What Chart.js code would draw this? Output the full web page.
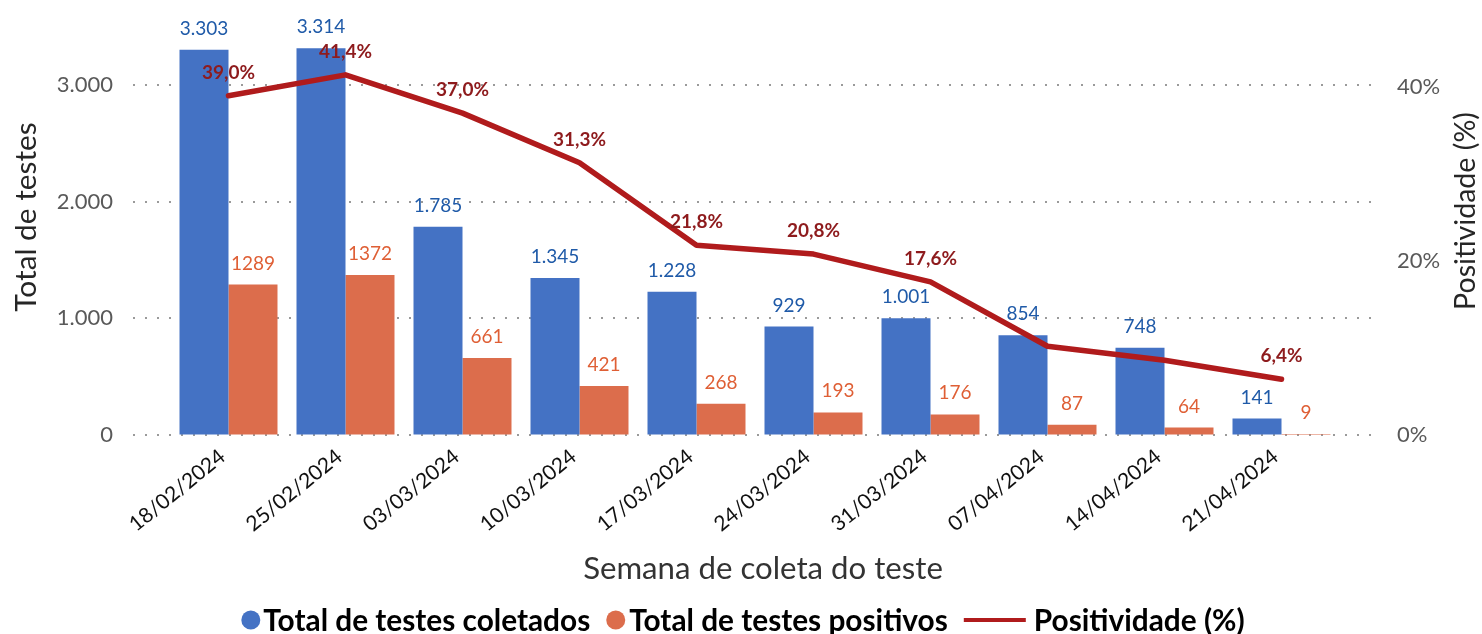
<!DOCTYPE html>
<html>
<head>
<meta charset="utf-8">
<script src="https://cdn.jsdelivr.net/npm/chart.js@4.4.1/dist/chart.umd.min.js"></script>
<style>
  html, body { margin: 0; padding: 0; background: #ffffff; }
  #wrap { width: 1482px; height: 634px; position: relative; }
</style>
</head>
<body>
<div id="wrap"><canvas id="c" width="1482" height="634"></canvas></div>
<script>
// ---------- DATA ----------
const categorias = ['18/02/2024','25/02/2024','03/03/2024','10/03/2024','17/03/2024','24/03/2024','31/03/2024','07/04/2024','14/04/2024','21/04/2024'];
const totalColetados = [3303, 3314, 1785, 1345, 1228, 929, 1001, 854, 748, 141];
const totalPositivos = [1289, 1372, 661, 421, 268, 193, 176, 87, 64, 9];
const positividade = [39.0, 41.4, 37.0, 31.3, 21.8, 20.8, 17.6, 10.2, 8.6, 6.4];
const rotuloPositividadeVisivel = [true, true, true, true, true, true, true, false, false, true];
const ticksEsquerda = [0, 1000, 2000, 3000];
const ticksDireita = [0, 20, 40];
const nomesSeries = ['Total de testes coletados', 'Total de testes positivos', 'Positividade (%)'];
const tituloX = 'Semana de coleta do teste';
const tituloY = 'Total de testes';
const tituloY2 = 'Positividade (%)';

// ---------- STYLE ----------
const FONTE = 'Lato, "Open Sans", sans-serif';
const AZUL = '#4472C4';
const LARANJA = '#DC6D4C';
const VERMELHO = '#B01B1C';

const fmtMilhar = v => String(v).replace(/\B(?=(\d{3})+(?!\d))/g, '.');
const fmtPct = v => v.toFixed(1).replace('.', ',') + '%';

// choose a font size so that a text takes a given width
function fonteParaLargura(ctx, texto, largura, peso) {
  ctx.font = peso + ' 100px ' + FONTE;
  const w = ctx.measureText(texto).width;
  return Math.round(100 * largura / w * 10) / 10;
}

const gradePlugin = {
  id: 'grade',
  beforeDatasetsDraw(chart) {
    const { ctx, chartArea, scales } = chart;
    ctx.save();
    ctx.strokeStyle = '#9A9A9A';
    ctx.lineWidth = 2;
    ctx.setLineDash([2, 10]);
    ticksEsquerda.forEach(v => {
      const y = Math.round(scales.y.getPixelForValue(v));
      ctx.beginPath();
      ctx.moveTo(chartArea.left - 37, y);
      ctx.lineTo(chartArea.right + 36, y);
      ctx.stroke();
    });
    ctx.restore();
  }
};

const rotulosPlugin = {
  id: 'rotulos',
  afterDatasetsDraw(chart) {
    const ctx = chart.ctx;
    ctx.save();
    ctx.textAlign = 'center';
    ctx.textBaseline = 'alphabetic';
    const barras = [[0, '#1F5AA8', fmtMilhar], [1, '#DF5F35', v => String(v)]];
    barras.forEach(([di, cor, fmt]) => {
      const meta = chart.getDatasetMeta(di);
      const ds = chart.data.datasets[di];
      ctx.font = '19px ' + FONTE;
      ctx.fillStyle = cor;
      meta.data.forEach((el, i) => {
        ctx.fillText(fmt(ds.data[i]), el.x, el.y - 15);
      });
    });
    const metaL = chart.getDatasetMeta(2);
    ctx.font = 'bold 19px ' + FONTE;
    ctx.fillStyle = '#8E1B1D';
    metaL.data.forEach((el, i) => {
      if (!rotuloPositividadeVisivel[i]) return;
      ctx.fillText(fmtPct(positividade[i]), el.x, el.y - 17);
    });
    ctx.restore();
  }
};

const textosPlugin = {
  id: 'textos',
  afterDraw(chart) {
    const ctx = chart.ctx;
    ctx.save();
    ctx.textAlign = 'center';
    ctx.textBaseline = 'middle';
    // axis titles
    ctx.fillStyle = '#262626';
    ctx.font = fonteParaLargura(ctx, tituloY, 189, '') + 'px ' + FONTE;
    ctx.save(); ctx.translate(26, 217); ctx.rotate(-Math.PI / 2); ctx.fillText(tituloY, 0, 0); ctx.restore();
    ctx.font = fonteParaLargura(ctx, tituloY2, 198, '') + 'px ' + FONTE;
    ctx.save(); ctx.translate(1466, 211); ctx.rotate(-Math.PI / 2); ctx.fillText(tituloY2, 0, 0); ctx.restore();
    ctx.fillStyle = '#333333';
    ctx.font = fonteParaLargura(ctx, tituloX, 360, '') + 'px ' + FONTE;
    ctx.fillText(tituloX, 763, 569);

    // legend
    ctx.font = 'bold ' + fonteParaLargura(ctx, nomesSeries[0], 327, 'bold') + 'px ' + FONTE;
    ctx.textAlign = 'left';
    const cores = [AZUL, LARANJA, VERMELHO];
    const w = nomesSeries.map(t => ctx.measureText(t).width);
    const marc = [19, 19, 62];
    const gapM = [3, 4, 8];
    const gapItem = 16;
    let total = 0;
    for (let i = 0; i < 3; i++) total += marc[i] + gapM[i] + w[i] + (i < 2 ? gapItem : 0);
    let x = 743 - total / 2;
    const yc = 620;
    for (let i = 0; i < 3; i++) {
      ctx.fillStyle = cores[i];
      if (i < 2) {
        ctx.beginPath(); ctx.arc(x + 9.5, yc, 9.5, 0, Math.PI * 2); ctx.fill();
      } else {
        ctx.strokeStyle = cores[i]; ctx.lineWidth = 4;
        ctx.beginPath(); ctx.moveTo(x, yc); ctx.lineTo(x + marc[i], yc); ctx.stroke();
      }
      x += marc[i] + gapM[i];
      ctx.fillStyle = '#000000';
      ctx.fillText(nomesSeries[i], x, yc + 1);
      x += w[i] + gapItem;
    }
    ctx.restore();
  }
};

new Chart(document.getElementById('c'), {
  type: 'bar',
  data: {
    labels: categorias,
    datasets: [
      { label: nomesSeries[0], data: totalColetados, backgroundColor: AZUL, yAxisID: 'y', order: 2,
        barPercentage: 1.0, categoryPercentage: 0.8376 },
      { label: nomesSeries[1], data: totalPositivos, backgroundColor: LARANJA, yAxisID: 'y', order: 2,
        barPercentage: 1.0, categoryPercentage: 0.8376 },
      { type: 'line', label: nomesSeries[2], data: positividade, yAxisID: 'y1', order: 0,
        borderColor: VERMELHO, backgroundColor: VERMELHO, borderWidth: 5.5, pointRadius: 0,
        borderCapStyle: 'round', borderJoinStyle: 'round', tension: 0, fill: false }
    ]
  },
  options: {
    responsive: false,
    animation: false,
    devicePixelRatio: 1,
    layout: { padding: { top: 15, left: 0, right: 0, bottom: 0 } },
    plugins: { legend: { display: false }, tooltip: { enabled: false } },
    scales: {
      x: {
        grid: { display: false },
        border: { display: false },
        ticks: { color: '#111111', font: { family: FONTE, size: 21 }, minRotation: 39, maxRotation: 39,
                 autoSkip: false, padding: 1, labelOffset: -6 },
        afterFit: s => { s.height = 199; }
      },
      y: {
        position: 'left', min: 0, max: 3600,
        grid: { display: true, drawOnChartArea: false, drawTicks: true, tickLength: 57, color: 'rgba(0,0,0,0)' },
        border: { display: false },
        ticks: { color: '#595959', font: { family: FONTE, size: 22 }, padding: 0, callback: v => fmtMilhar(v) },
        afterBuildTicks: s => { s.ticks = ticksEsquerda.map(v => ({ value: v })); },
        afterFit: s => { s.width = 170; }
      },
      y1: {
        position: 'right', min: 0, max: 48.28,
        grid: { display: true, drawOnChartArea: false, drawTicks: true, tickLength: 57, color: 'rgba(0,0,0,0)' },
        border: { display: false },
        ticks: { color: '#595959', font: { family: FONTE, size: 22 }, padding: 0, callback: v => v + '%' },
        afterBuildTicks: s => { s.ticks = ticksDireita.map(v => ({ value: v })); },
        afterFit: s => { s.width = 142; }
      }
    }
  },
  plugins: [gradePlugin, rotulosPlugin, textosPlugin]
});
</script>
</body>
</html>
